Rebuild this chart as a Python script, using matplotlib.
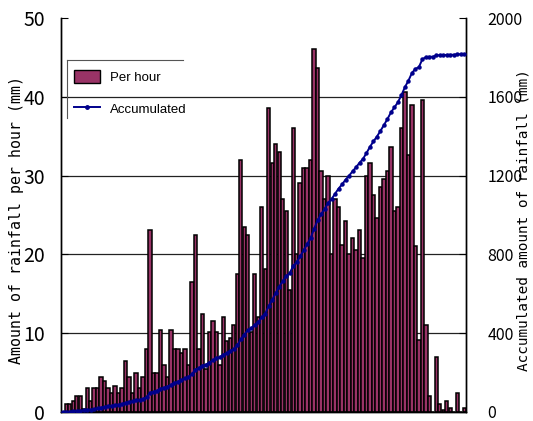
import matplotlib
matplotlib.use("Agg")
import matplotlib.pyplot as plt
import numpy as np
from matplotlib.lines import Line2D
from matplotlib.patches import Patch

# hourly rainfall (mm), one value per hour
per_hour = [
    0,
    1.0, 1.0, 1.4, 2.0, 2.0, 0.4, 3.0, 1.4, 3.0, 3.0,
    4.4, 3.9, 3.0, 2.4, 3.3, 2.4, 3.0, 6.5, 4.4, 2.4,
    5.0, 3.0, 4.4, 8.0, 23.1, 5.0, 5.0, 10.4, 6.0, 4.4,
    10.4, 8.0, 8.0, 7.5, 8.0, 6.0, 16.5, 22.5, 8.0, 12.4,
    5.4, 10.1, 11.5, 10.1, 6.0, 12.1, 9.0, 9.4, 11.1, 17.5,
    32.0, 23.5, 22.5, 10.1, 17.5, 12.1, 26.0, 18.1, 38.6, 31.6,
    34.0, 33.0, 27.0, 25.5, 15.5, 36.0, 20.0, 29.0, 31.0, 31.0,
    32.0, 46.1, 43.6, 30.6, 27.0, 30.0, 20.0, 27.0, 26.0, 21.2,
    24.2, 20.0, 22.1, 20.6, 23.1, 19.5, 30.0, 31.6, 27.6, 24.6,
    28.6, 29.6, 30.6, 33.6, 25.5, 26.0, 36.0, 40.6, 32.6, 39.0,
    21.1, 9.1, 39.6, 11.0, 2.0, 0.0, 7.0, 1.0, 0.2, 1.4,
    0.5, 0.0, 2.4, 0.0, 0.5,
]
hours = np.arange(len(per_hour))
accumulated = np.cumsum(per_hour)

left_ticks = [0, 10, 20, 30, 40, 50]
right_ticks = [0, 400, 800, 1200, 1600, 2000]

BAR_COLOR = "#993366"
LINE_COLOR = "#00008c"
tick_font = ["Noto Sans CJK JP", "DejaVu Sans"]
label_font = ["DejaVu Sans Mono"]

fig = plt.figure(figsize=(5.33, 4.21), dpi=100)
ax = fig.add_axes([0.1144, 0.0214, 0.7599, 0.9358])
ax2 = ax.twinx()

ax.bar(hours, per_hour, width=0.95, color=BAR_COLOR, edgecolor="black", linewidth=1.1, zorder=2)
ax2.plot(hours, accumulated, color=LINE_COLOR, linewidth=1.4, marker="o", markersize=2.2, zorder=3)

ax.set_xlim(-0.5, len(per_hour) - 0.5)
ax.set_ylim(0, 50)
ax2.set_ylim(0, 2000)
ax.set_xticks([])

for y in left_ticks[1:-1]:
    ax.axhline(y, color="#222222", linewidth=0.9, zorder=1)

ax.set_yticks(left_ticks)
ax2.set_yticks(right_ticks)
ax.tick_params(axis="y", direction="in", length=5, pad=11.5)
ax2.tick_params(axis="y", direction="in", length=5, pad=15.5)
for lbl in ax.get_yticklabels():
    lbl.set_family(tick_font)
    lbl.set_fontsize(14)
for lbl in ax2.get_yticklabels():
    lbl.set_family(tick_font)
    lbl.set_fontsize(11.5)

for a in (ax, ax2):
    a.spines["top"].set_visible(False)
    for s in ("left", "right", "bottom"):
        a.spines[s].set_linewidth(1.0)

fig.text(0.031, 0.478, "Amount of rainfall per hour (mm)", rotation=90,
         ha="center", va="center", fontsize=10.7, family=label_font)
fig.text(0.982, 0.478, "Accumulated amount of rainfall (mm)", rotation=90,
         ha="center", va="center", fontsize=10.4, family=label_font)

handles = [
    Patch(facecolor=BAR_COLOR, edgecolor="black", linewidth=1.0),
    Line2D([], [], color=LINE_COLOR, linewidth=1.4, marker="o", markersize=2.5),
]
ax.legend(handles, ["Per hour", "Accumulated"], loc="upper left",
          bbox_to_anchor=(70 / 533, 1 - 66 / 421), bbox_transform=fig.transFigure,
          frameon=False, prop={"family": "Liberation Sans", "size": 9.5},
          handlelength=1.95, handleheight=1.15, handletextpad=0.75, labelspacing=1.35,
          borderpad=0.3, borderaxespad=0)

# partial legend border
fig.add_artist(Line2D([67 / 533, 183 / 533], [1 - 60 / 421, 1 - 60 / 421],
                      color="#555555", linewidth=0.8))
fig.add_artist(Line2D([67 / 533, 67 / 533], [1 - 60 / 421, 1 - 118 / 421],
                      color="#555555", linewidth=0.8))

fig.savefig("out.png", dpi=100)
